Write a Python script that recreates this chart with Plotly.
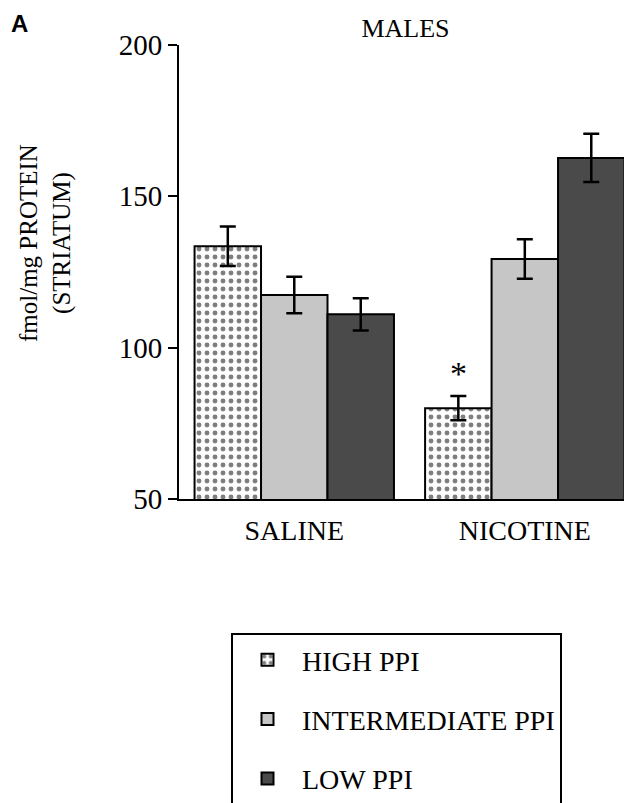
import plotly.graph_objects as go

categories = ["SALINE", "NICOTINE"]
series_names = ["HIGH PPI", "INTERMEDIATE PPI", "LOW PPI"]
high_ppi = [133.5, 80.0]
high_err = [6.5, 4.0]
inter_ppi = [117.4, 129.3]
inter_err = [6.0, 6.5]
low_ppi = [111.0, 162.7]
low_err = [5.3, 8.0]
y_ticks = [50, 100, 150, 200]

FONT = "Liberation Serif, Times New Roman, serif"
BARGAP = 0.135

# page body has an 8px margin; the figure is sized to fit the 632x803 window
W, H = 624, 795
ML, MT, MB = 171, 37, 304
PW = W - ML
PH = H - MT - MB

fig = go.Figure()
series = [
    (series_names[0], high_ppi, high_err, dict(color="white", pattern=dict(shape=".", fgcolor="black", bgcolor="white", size=8, solidity=0.3))),
    (series_names[1], inter_ppi, inter_err, dict(color="#c6c6c6")),
    (series_names[2], low_ppi, low_err, dict(color="#4a4a4a")),
]
for i, (name, vals, errs, mk) in enumerate(series):
    mk = dict(mk)
    mk["line"] = dict(color="black", width=2)
    fig.add_trace(go.Bar(
        x=categories, y=vals, name=name, marker=mk, legendgroup=f"g{i}",
        error_y=dict(type="data", array=errs, visible=True, color="black", thickness=2.5, width=8),
    ))

# asterisk above the nicotine HIGH PPI bar
offset = (1 - BARGAP) / 3
fig.add_annotation(x=1 - offset, y=high_ppi[1] + high_err[1], xref="x", yref="y",
                   text="*", showarrow=False, yanchor="bottom", yshift=2,
                   font=dict(family=FONT, size=34, color="black"))

fig.add_annotation(x=(37 - ML) / PW, y=1 - (235 - MT) / PH, xref="paper", yref="paper",
                   text="fmol/mg PROTEIN<br>(STRIATUM)", textangle=-90, showarrow=False,
                   xanchor="center", yanchor="middle",
                   font=dict(family=FONT, size=25, color="black"))

fig.add_annotation(x=(1 - ML) / PW, y=1 + MT / PH, xref="paper", yref="paper", text="<b>A</b>",
                   showarrow=False, xanchor="left", yanchor="top",
                   font=dict(family="Liberation Sans, Arial, sans-serif", size=24, color="black"))

fig.update_layout(
    width=W, height=H,
    margin=dict(l=ML, r=0, t=MT, b=MB, autoexpand=False),
    paper_bgcolor="white", plot_bgcolor="white",
    barmode="group", bargap=BARGAP, bargroupgap=0,
    title=dict(text="MALES", x=0.5, xref="paper", y=1 - 20 / H, yanchor="middle",
               font=dict(family=FONT, size=26, color="black")),
    font=dict(family=FONT, color="black"),
    xaxis=dict(range=[-0.5, 1.465], showline=True, linecolor="black", linewidth=2,
               ticks="", tickfont=dict(family=FONT, size=28, color="black"),
               ticklabelstandoff=5, showgrid=False, zeroline=False),
    yaxis=dict(range=[50, 200], tickvals=y_ticks, showline=True, linecolor="black", linewidth=2,
               ticks="outside", ticklen=9, tickwidth=2, tickcolor="black",
               tickfont=dict(family=FONT, size=29, color="black"),
               showgrid=False, zeroline=False),
    legend=dict(x=(223 - ML) / PW, y=-(625 - (MT + PH)) / PH, xanchor="left", yanchor="top",
                bordercolor="black", borderwidth=2, bgcolor="white",
                font=dict(family=FONT, size=28, color="black"),
                itemwidth=59, tracegroupgap=20, traceorder="grouped"),
    showlegend=True,
)

fig.write_html("out.html")
